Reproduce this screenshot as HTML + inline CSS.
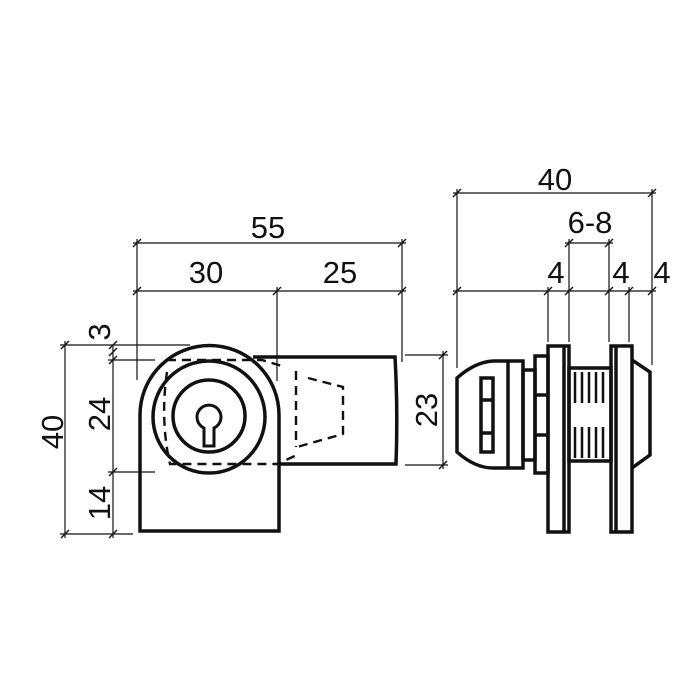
<!DOCTYPE html>
<html><head><style>body{margin:0;background:#fff}svg{display:block}text{font-family:"Liberation Sans",sans-serif;font-size:31px;fill:#111;text-anchor:middle}</style></head><body>
<svg width="700" height="700" viewBox="0 0 700 700">
<g stroke="#111" stroke-width="1.2" fill="none">
<line x1="133" y1="243" x2="406" y2="243"/><line x1="133" y1="291" x2="406" y2="291"/>
<line x1="137" y1="239" x2="137" y2="380"/><line x1="402" y1="239" x2="402" y2="362"/><line x1="277" y1="287" x2="277" y2="381"/>
<line x1="453" y1="193" x2="656" y2="193"/><line x1="453" y1="291" x2="656" y2="291"/><line x1="565" y1="243" x2="613" y2="243"/>
<line x1="457" y1="189" x2="457" y2="368"/><line x1="652" y1="189" x2="652" y2="365"/>
<line x1="548" y1="287" x2="548" y2="342"/><line x1="569" y1="239" x2="569" y2="342"/><line x1="609" y1="239" x2="609" y2="342"/><line x1="629" y1="287" x2="629" y2="342"/>
<line x1="65" y1="341" x2="65" y2="538"/><line x1="113" y1="346" x2="113" y2="538"/>
<line x1="60" y1="345" x2="190" y2="345"/><line x1="108" y1="360" x2="155" y2="360"/><line x1="108" y1="472" x2="155" y2="472"/><line x1="60" y1="534" x2="133" y2="534"/>
<line x1="443" y1="351" x2="443" y2="469"/><line x1="405" y1="355" x2="448" y2="355"/><line x1="405" y1="465" x2="448" y2="465"/>
<g stroke-width="1.4">
<path d="M133,247l8,-8M398,247l8,-8M133,295l8,-8M273,295l8,-8M398,295l8,-8"/>
<path d="M453,197l8,-8M648,197l8,-8M453,295l8,-8M544,295l8,-8M565,295l8,-8M605,295l8,-8M625,295l8,-8M648,295l8,-8M565,247l8,-8M605,247l8,-8"/>
<path d="M61,349l8,-8M61,538l8,-8M109,349l8,-8M109,356l8,-8M109,364l8,-8M109,476l8,-8M109,538l8,-8M439,359l8,-8M439,469l8,-8"/>
</g>
</g>
<g stroke="#111" stroke-width="3.5" fill="none">
<path d="M140,531V415A69,69 0 0 1 279,415V531Z"/>
<path d="M253,357H395Q398,410 396,464H279"/>
<circle cx="209" cy="417" r="56"/><circle cx="209" cy="416" r="36"/>
<path d="M204,428A12,12 0 1 1 214,428V446H204Z" stroke-width="3"/>
<g stroke-dasharray="9,6" stroke-width="2.4">
<path d="M167,360H262L285,367"/><path d="M167,372Q160,420 170,464H277L297,455"/>
<path d="M296,371V447"/><path d="M308,378L343,387V434L297,447"/>
</g>
<path d="M457,378Q475,362 493,361H523V468H493Q475,468 457,452Z"/>
<line x1="508" y1="361" x2="508" y2="468"/>
<rect x="481" y="378" width="12" height="74"/><path d="M481,400H493M481,433H493"/>
<rect x="523" y="370" width="12" height="90"/>
<rect x="535" y="356" width="13" height="117"/><path d="M535,395H548M535,435H548"/>
<rect x="548" y="346" width="21" height="186"/><line x1="564" y1="346" x2="564" y2="532"/>
<rect x="569" y="368" width="42" height="93"/>
<rect x="611" y="346" width="21" height="186"/><line x1="616" y1="346" x2="616" y2="532"/>
<path d="M632,360L650,372V455L632,468"/>
<path d="M575,372V403M582,372V403M589,372V403M596,372V403M603,372V403M575,427V458M582,427V458M589,427V458M596,427V458M603,427V458" stroke-width="2.5"/>
</g>
<text x="268" y="238">55</text><text x="206" y="283">30</text><text x="340" y="283">25</text>
<text x="555" y="190">40</text><text x="590" y="233">6-8</text>
<text x="556" y="283">4</text><text x="621" y="283">4</text><text x="662" y="283">4</text>
<text transform="translate(63,432) rotate(-90)">40</text>
<text transform="translate(110,332) rotate(-90)">3</text>
<text transform="translate(110,414) rotate(-90)">24</text>
<text transform="translate(110,503) rotate(-90)">14</text>
<text transform="translate(437,410) rotate(-90)">23</text>
</svg>
</body></html>
